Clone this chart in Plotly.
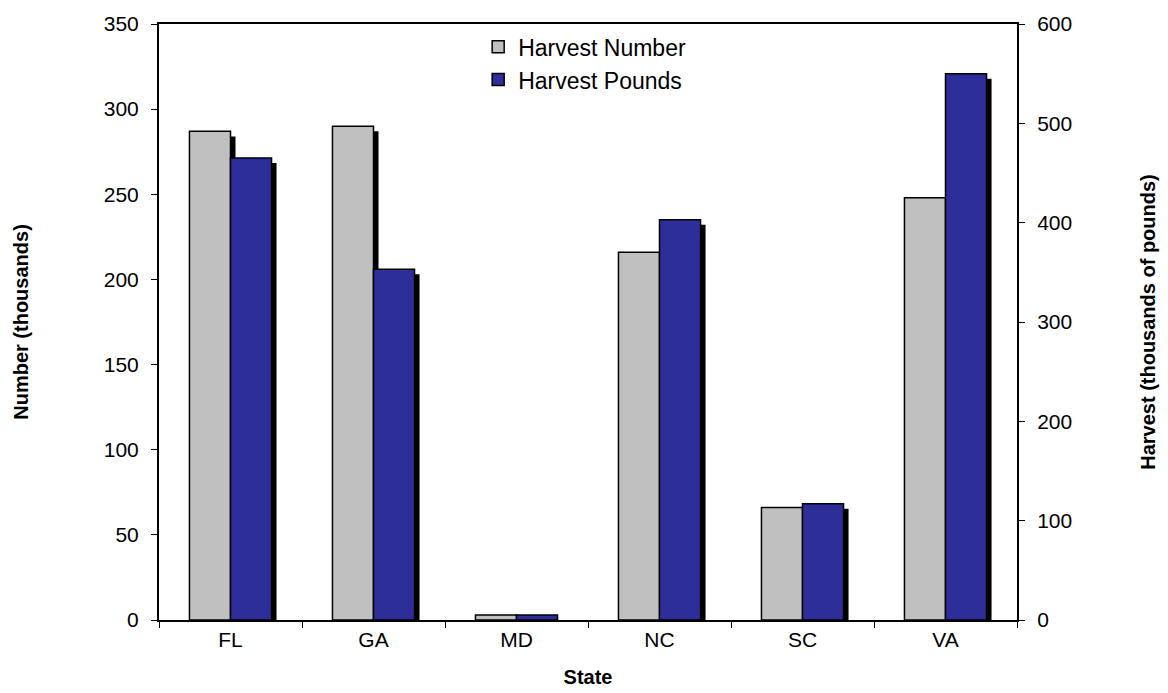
import plotly.graph_objects as go

states = ["FL", "GA", "MD", "NC", "SC", "VA"]
harvest_number = [287, 290, 3, 216, 66, 248]      # thousands
harvest_pounds = [465, 353, 5, 403, 117, 550]     # thousands of pounds

gray = "#c0c0c0"
blue = "#2e2e9a"
w = 0.287
sh = 0.035   # shadow shift to the right (category units)

fig = go.Figure()

# shadows first so they sit behind
fig.add_bar(x=states, y=[v - 3 for v in harvest_number], base=0, offset=-w + sh, width=w,
            marker=dict(color="black", line=dict(width=0)), showlegend=False, hoverinfo="skip")
fig.add_bar(x=states, y=harvest_number, name="Harvest Number", offset=-w, width=w,
            marker=dict(color=gray, line=dict(color="black", width=1.5)))
fig.add_bar(x=states, y=[v - 5 for v in harvest_pounds], base=0, offset=sh, width=w, yaxis="y2",
            marker=dict(color="black", line=dict(width=0)), showlegend=False, hoverinfo="skip")
fig.add_bar(x=states, y=harvest_pounds, name="Harvest Pounds", offset=0, width=w, yaxis="y2",
            marker=dict(color=blue, line=dict(color="black", width=1.5)))

font = dict(family="Liberation Sans, Arial, sans-serif", color="black")
title_font = dict(size=20, **font)
tick_font = dict(size=21, **font)

fig.update_layout(
    width=1168, height=693,
    barmode="overlay",
    plot_bgcolor="white", paper_bgcolor="white",
    margin=dict(l=151, r=159, t=16, b=81),
    font=dict(size=21, **font),
    legend=dict(x=0.372, y=0.998, xanchor="left", yanchor="top", bgcolor="rgba(0,0,0,0)",
                font=dict(size=23, **font), traceorder="normal", tracegroupgap=0),
    xaxis=dict(showline=True, linecolor="black", linewidth=2, mirror=True, automargin=False,
               ticks="outside", ticklen=6, tickcolor="black", tickson="boundaries",
               ticklabelstandoff=0,
               title=dict(text="<b>State</b>", font=title_font, standoff=20),
               tickfont=tick_font),
    yaxis=dict(range=[0, 350], dtick=50, showgrid=False, zeroline=False, automargin=False,
               showline=True, linecolor="black", linewidth=2,
               ticks="outside", ticklen=6, tickcolor="black", ticklabelstandoff=8,
               title=dict(text="<b>Number (thousands)</b>", font=title_font, standoff=70),
               tickfont=tick_font),
    yaxis2=dict(range=[0, 600], dtick=100, overlaying="y", side="right", showgrid=False,
                zeroline=False, showline=True, linecolor="black", linewidth=2, automargin=False,
                ticks="outside", ticklen=6, tickcolor="black", ticklabelstandoff=8,
                title=dict(text="<b>Harvest (thousands of pounds)</b>", font=title_font, standoff=70),
                tickfont=tick_font),
)

fig.write_html("out.html")
